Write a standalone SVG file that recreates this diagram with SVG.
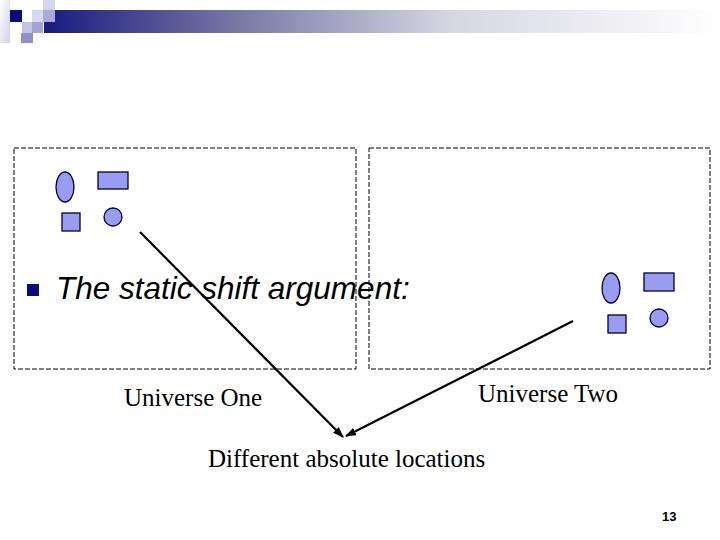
<svg xmlns="http://www.w3.org/2000/svg" width="720" height="540" viewBox="0 0 720 540">
<defs>
<linearGradient id="bar" x1="0" y1="0" x2="1" y2="0">
<stop offset="0" stop-color="#1a1a80"/>
<stop offset="0.3" stop-color="#7c7ca8"/>
<stop offset="0.6" stop-color="#d6d6e2"/>
<stop offset="1" stop-color="#ffffff"/>
</linearGradient>
<linearGradient id="fade" x1="0" y1="0" x2="1" y2="1">
<stop offset="0" stop-color="#ffffff"/>
<stop offset="1" stop-color="#d0d0ea"/>
</linearGradient>
<marker id="ah" markerWidth="11" markerHeight="8" refX="10" refY="4" orient="auto" markerUnits="userSpaceOnUse">
<path d="M0,0 L11,4 L0,8 Z" fill="#000"/>
</marker>
<style>
.box{fill:none;stroke:#000;stroke-width:1;stroke-dasharray:5,2}
.shp{fill:#9a9cf2;stroke:#000033;stroke-width:1.3}
.lbl{font-family:"Liberation Serif","Times New Roman",serif;font-size:25px;fill:#000}
.conn{stroke:#000;stroke-width:2.2;fill:none;marker-end:url(#ah)}
</style>
</defs>
<rect width="720" height="540" fill="#fff"/>
<g id="header">
<rect x="0" y="0" width="10" height="43" fill="url(#fade)"/>
<rect x="44" y="10" width="676" height="23" fill="url(#bar)"/>
<rect x="10" y="10" width="12" height="12" fill="#0a0a78"/>
<rect x="32" y="10" width="11" height="12" fill="#d8d8f0"/>
<rect x="43" y="0" width="12" height="10" fill="#d4d4ea"/>
<rect x="43" y="10" width="12" height="12" fill="#aaaad8"/>
<rect x="22" y="22" width="10" height="11" fill="#c4c4e4"/>
<rect x="32" y="22" width="11" height="11" fill="#a4a4d4"/>
<rect x="21" y="33" width="12" height="10" fill="#9292c8"/>
</g>
<g id="universe-one">
<rect class="box" x="14" y="148" width="342" height="221"/>
<ellipse class="shp" cx="65" cy="187" rx="9" ry="15"/>
<rect class="shp" x="98" y="172" width="30" height="17"/>
<rect class="shp" x="62" y="213" width="18" height="18"/>
<circle class="shp" cx="113" cy="217" r="9"/>
</g>
<g id="universe-two">
<rect class="box" x="369" y="148" width="341" height="221"/>
<ellipse class="shp" cx="611" cy="288" rx="9" ry="15"/>
<rect class="shp" x="644" y="273" width="30" height="18"/>
<rect class="shp" x="608" y="315" width="18" height="18"/>
<circle class="shp" cx="659" cy="318" r="9"/>
</g>
<g id="bullet">
<rect x="27" y="284" width="12" height="12" fill="#0a0a80"/>
<text x="56" y="299" font-family="'Liberation Sans',Arial,sans-serif" font-size="31.5" font-style="italic" fill="#000">The static shift argument:</text>
</g>
<g id="connectors">
<line class="conn" x1="140" y1="232" x2="343" y2="437"/>
<line class="conn" x1="573" y1="321" x2="346" y2="436"/>
</g>
<g id="labels">
<text class="lbl" x="124" y="406">Universe One</text>
<text class="lbl" x="478" y="402">Universe Two</text>
<text class="lbl" x="208" y="467">Different absolute locations</text>
</g>
<text x="662" y="521" font-family="'Liberation Sans',Arial,sans-serif" font-size="13" font-weight="bold" fill="#000">13</text>
</svg>
